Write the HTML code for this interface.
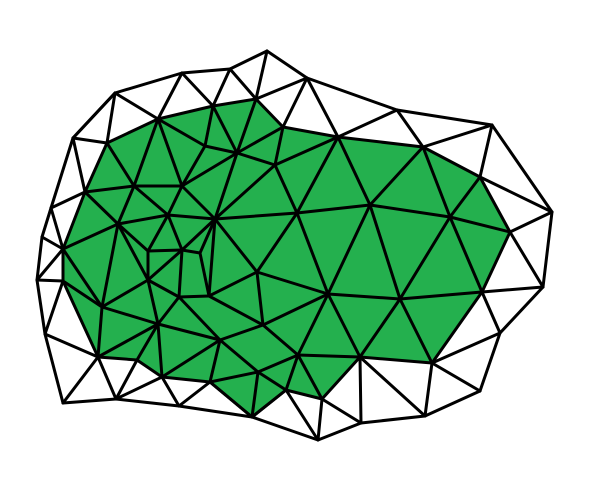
<!DOCTYPE html>
<html><head><meta charset="utf-8"><style>html,body{margin:0;padding:0;background:#fff}svg{display:block}</style></head>
<body>
<svg id="mesh" width="600" height="480" viewBox="0 0 600 480" xmlns="http://www.w3.org/2000/svg">
<polygon id="greenRegion" fill="#24b04e" stroke="none" points=""/>
<g id="edges" stroke="#000" stroke-width="3" stroke-linecap="round"></g>
</svg>
<script>
const nodes = {
o1:[267,51],o2:[307,78],o3:[397,110],o4:[492,125],o5:[552,212],o6:[543,287],o7:[500,333],o8:[480,391],o9:[425,416],o10:[361,423],o11:[318,440],o12:[252,417],o13:[179,406],o14:[116,399],o15:[63,403],o16:[45,334],o17:[37,280],o18:[42,237],o19:[51,208],o20:[73,138],o21:[115,93],o22:[182,73],o23:[230,69],
g1:[107,143],g2:[158,119],g3:[213,106],g4:[256,99],g5:[283,127],g6:[338,137],g7:[423,147],g8:[480,177],g9:[510,232],g10:[482,292],g11:[432,363],g12:[360,357],g13:[322,399],g14:[286,390],g16:[210,382],g17:[162,377],g18:[137,360],g19:[98,357],g20:[63,281],g21:[63,249],g22:[85,192],
i1:[134,186],i2:[182,186],i3:[205,146],i4:[237,153],i5:[275,165],i6:[118,224],i7:[168,215],i8:[215,219],i9:[297,213],i10:[370,205],i11:[450,217],i12:[400,299],i13:[328,294],i14:[298,355],i15:[258,372],i16:[263,325],i17:[220,340],i18:[158,324],i19:[102,307],i20:[148,280],i21:[179,297],i22:[209,296],i23:[257,272],i24:[148,251],i25:[182,250],i26:[200,253]
};
const greenRegion = ["g1","g2","g3","g4","g5","g6","g7","g8","g9","g10","g11","g12","g13","g14","o12","g16","g17","g18","g19","g20","g21","g22"];
const outerRing = ["o1","o2","o3","o4","o5","o6","o7","o8","o9","o10","o11","o12","o13","o14","o15","o16","o17","o18","o19","o20","o21","o22","o23"];
const edgeList = [
"o21-g1","o21-g2","o21-o20","o22-g2","o22-g3","o23-g3","o23-g4","o1-g4","o2-g4","o2-g5","o2-g6","o3-g6","o3-g7","o4-g7","o4-g8","o5-g8","o5-g9","o6-g9","o6-g10","o7-g10","o7-g11","o8-g11","o9-g11","o9-g12","o10-g12","o10-g13","o11-g13","o11-g14","o12-g14","o12-g16","o13-g16","o13-g17","o14-g17","o14-g18","o14-g19","o15-g19","o16-g19","o16-g20","o17-g20","o17-g21","o18-g21","o19-g21","o19-g22","o20-g22","o20-g1",
"g1-i1","g2-i1","g2-i2","g2-i3","g3-i3","g3-i4","g4-i4","g5-i4","i3-i4","i2-i3","i2-i4","i4-i5","g5-i5","g22-i1","i1-i2","g22-i6","i1-i6","i1-i7","i2-i7","i2-i8","i4-i8","i5-i8","i5-i9","g21-i6","i6-i7","i7-i8","i8-i9",
"g6-i5","g6-i9","g6-i10","g7-i10","g7-i11","g8-i11","g9-i11","i9-i10","i10-i11","i9-i13","i10-i13","i10-i12","i11-i12","g10-i11","g10-i12","i12-i13","i13-i14","i13-g12","i12-g12","i12-g11","g12-i14","i14-g13","i13-i23","i13-i16","i9-i23",
"g21-i19","i6-i19","i6-i24","i6-i20","g20-i19","g19-i19","i19-i20","i19-i18","g19-i18","g18-i18","g17-i18","i18-i20","i18-i21","i18-i17","g17-i17","g16-i17","i17-i15","g16-i15","o12-i15","i15-g14","i15-i14","i14-g14","i14-i16","i16-i17","i16-i22","i16-i23","i23-i22","i23-i8","i22-i21","i21-i17","i22-i26","i22-i8","i21-i25","i21-i20","i20-i24","i20-i25","i24-i25","i25-i26","i26-i8","i25-i8","i24-i7","i25-i7"
];
const poly = document.getElementById('greenRegion');
poly.setAttribute('points', greenRegion.map(k => nodes[k].join(',')).join(' '));
const g = document.getElementById('edges');
const NS = 'http://www.w3.org/2000/svg';
function addLine(a, b, name) {
  const l = document.createElementNS(NS, 'line');
  l.setAttribute('x1', nodes[a][0]); l.setAttribute('y1', nodes[a][1]);
  l.setAttribute('x2', nodes[b][0]); l.setAttribute('y2', nodes[b][1]);
  
  
  g.appendChild(l);
}
for (let i = 0; i < outerRing.length; i++) addLine(outerRing[i], outerRing[(i + 1) % outerRing.length], 'outer-edge');
for (let i = 0; i < greenRegion.length; i++) addLine(greenRegion[i], greenRegion[(i + 1) % greenRegion.length], 'region-edge');
edgeList.forEach(e => { const p = e.split('-'); addLine(p[0], p[1], 'mesh-edge'); });
</script>
</body></html>
